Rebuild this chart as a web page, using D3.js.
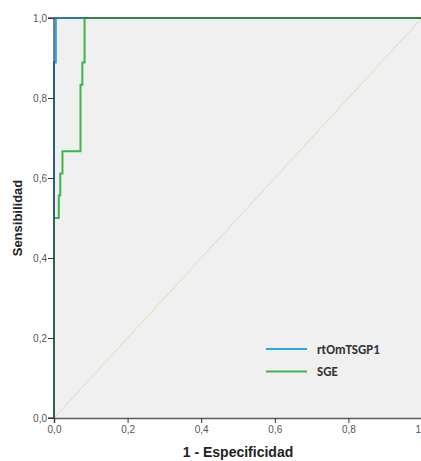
<!DOCTYPE html>
<html>
<head>
<meta charset="utf-8">
<script src="https://cdn.jsdelivr.net/npm/d3@7"></script>
<style>
body { margin: 0; background: #fff; }
svg { display: block; }
.tick-label { font-family: Arial, "Liberation Sans", sans-serif; font-size: 10px; fill: #555; }
.axis-title { font-family: Arial, "Liberation Sans", sans-serif; font-size: 14px; font-weight: bold; fill: #222; }
.legend-label { font-family: Calibri, "Liberation Sans", Arial, sans-serif; font-size: 13px; font-weight: bold; fill: #333; }
</style>
</head>
<body>
<svg id="chart"></svg>
<script>
// ROC curves: [1 - especificidad, sensibilidad]
var rtOmTSGP1 = [[0, 0], [0, 0.889], [0.005, 0.889], [0.005, 1], [1, 1]];
var sge = [[0, 0], [0, 0.5], [0.013, 0.5], [0.013, 0.556], [0.017, 0.556], [0.017, 0.611],
  [0.023, 0.611], [0.023, 0.667], [0.072, 0.667], [0.072, 0.833], [0.077, 0.833],
  [0.077, 0.889], [0.083, 0.889], [0.083, 1], [1, 1]];
var ticks = [0, 0.2, 0.4, 0.6, 0.8, 1];
var seriesNames = ['rtOmTSGP1', 'SGE'];
var seriesColors = ['#2aa9e0', '#3db54a'];

var width = 421, height = 461;
var svg = d3.select('svg#chart').attr('width', width).attr('height', height);

var x = d3.scaleLinear().domain([0, 1]).range([54, 422]);
var y = d3.scaleLinear().domain([0, 1]).range([418, 18]);

var fmt = function (d) { return d3.format('.1f')(d).replace('.', ','); };

// plot background
svg.append('rect')
  .attr('x', x(0)).attr('y', y(1))
  .attr('width', x(1) - x(0) + 5).attr('height', y(0) - y(1))
  .style('fill', '#f0f0f0');

// reference diagonal
svg.append('line')
  .attr('x1', x(0)).attr('y1', y(0))
  .attr('x2', x(1)).attr('y2', y(1))
  .style('stroke', '#dcdcb4').style('stroke-width', 1);

var line = d3.line()
  .x(function (d) { return x(d[0]); })
  .y(function (d) { return y(d[1]); });

svg.append('path').datum(rtOmTSGP1).attr('d', line)
  .style('fill', 'none').style('stroke', seriesColors[0]).style('stroke-width', 2);
svg.append('path').datum(sge).attr('d', line)
  .style('fill', 'none').style('stroke', seriesColors[1]).style('stroke-width', 2);

// top frame line
svg.append('line')
  .attr('x1', x(0)).attr('x2', x(1) + 5)
  .attr('y1', y(1)).attr('y2', y(1))
  .style('stroke', '#2a3a3a').style('stroke-opacity', 0.55).style('stroke-width', 1.5);

// axes
var yAxis = svg.append('g').attr('transform', 'translate(' + x(0) + ',0)')
  .call(d3.axisLeft(y).tickValues(ticks).tickFormat(fmt).tickSize(6).tickPadding(1));
var xAxis = svg.append('g').attr('transform', 'translate(0,' + y(0) + ')')
  .call(d3.axisBottom(x).tickValues(ticks).tickFormat(fmt).tickSize(5).tickPadding(3));

[yAxis, xAxis].forEach(function (a) {
  a.select('.domain').style('stroke', '#333');
  a.selectAll('.tick line').style('stroke', '#333');
  a.selectAll('.tick text').attr('class', 'tick-label').attr('font-family', null).attr('font-size', null).style('fill', '#555');
});
yAxis.select('.domain').attr('d', 'M-6,' + y(1) + 'H0V' + y(0) + 'H-6')
  .style('stroke', '#2c2c50').style('stroke-opacity', 0.6).style('stroke-width', 2);
xAxis.select('.domain').style('stroke-opacity', 0.8).style('stroke-width', 1.5);
yAxis.selectAll('.tick text').attr('dy', '0.32em');

// axis titles
svg.append('text').attr('class', 'axis-title')
  .attr('transform', 'translate(22,' + 218 + ') rotate(-90)')
  .attr('text-anchor', 'middle')
  .style('font-size', '13px')
  .text('Sensibilidad');
svg.append('text').attr('class', 'axis-title')
  .attr('x', 238).attr('y', 457)
  .attr('text-anchor', 'middle')
  .text('1 - Especificidad');

// legend
var legend = svg.selectAll('.legend').data(seriesNames).enter()
  .append('g').attr('class', 'legend')
  .attr('transform', function (d, i) { return 'translate(266,' + (349 + i * 22.5) + ')'; });
legend.append('line')
  .attr('x1', 0).attr('x2', 41).attr('y1', 0).attr('y2', 0)
  .style('stroke', function (d, i) { return seriesColors[i]; }).style('stroke-width', 2);
legend.append('text').attr('class', 'legend-label')
  .attr('x', 51).attr('y', 4.5)
  .text(function (d) { return d; });
</script>
</body>
</html>
